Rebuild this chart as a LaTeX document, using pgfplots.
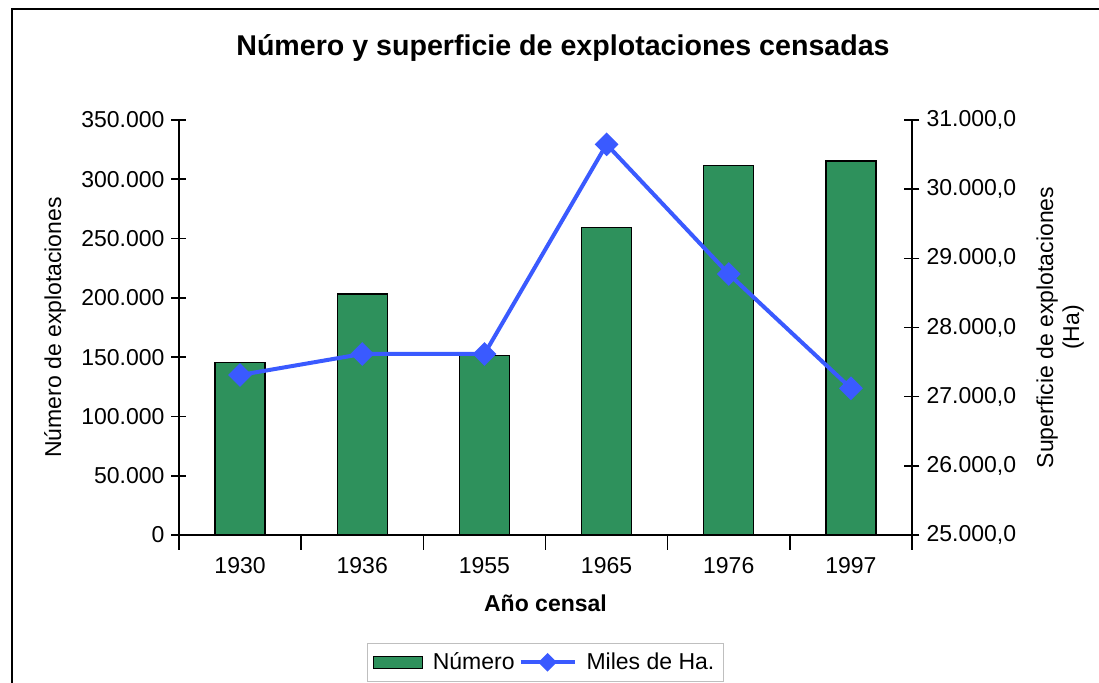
\documentclass[border=0pt]{standalone}
\usepackage{fontspec}
\setmainfont{Liberation Sans}
\usepackage{pgfplots}
\pgfplotsset{compat=1.18}
\definecolor{barc}{RGB}{46,145,92}
\definecolor{linec}{RGB}{58,90,255}
\pgfplotsset{
  barlegend/.style={legend image code/.code={\draw[fill=barc,draw=black,line width=0.6pt] (0pt,-3pt) rectangle (24.5pt,3pt);}},
  linelegend/.style={legend image code/.code={\draw[##1,mark size=2.3pt,mark repeat=2,mark phase=2] plot coordinates {(0pt,0pt) (13.5pt,0pt) (27pt,0pt)};}},
  common/.style={
    scale only axis, width=366.5pt, height=207.5pt,
    at={(0pt,0pt)}, anchor=south west,
    xmin=-0.5, xmax=5.5,
    scaled y ticks=false,
    tick align=center, major tick length=7.5pt,
    every tick/.style={black, line width=0.8pt},
    axis line style={line width=0.9pt},
    tick label style={font=\fontsize{11.5}{13}\selectfont},
    label style={font=\fontsize{11.5}{13}\selectfont},
  }
}
\begin{document}
\begin{tikzpicture}
\useasboundingbox (-89.5pt,-74pt) rectangle (460pt,267.5pt);
\draw[line width=0.8pt] (-83.5pt,-80pt) -- (-83.5pt,263pt) -- (470pt,263pt);
\begin{axis}[common,
  axis y line*=left, axis x line*=bottom,
  ymin=0, ymax=350000, ytick={0,50000,100000,150000,200000,250000,300000,350000},
  yticklabels={0,50.000,100.000,150.000,200.000,250.000,300.000,350.000},
  xtick={-0.5,0.5,1.5,2.5,3.5,4.5,5.5},
  x tick label as interval,
  xticklabels={1930,1936,1955,1965,1976,1997},
  xlabel={\bfseries Año censal},
  xlabel style={at={(axis description cs:0.5,-0.164)}, anchor=center},
  ylabel={Número de explotaciones},
  ylabel style={at={(axis description cs:-0.169,0.5)}, anchor=center},
  ybar, bar width=25pt,
]
\addplot[fill=barc, draw=black, line width=0.7pt] coordinates {(0,145650) (1,203250) (2,151230) (3,259500) (4,311470) (5,315420)};
\end{axis}
\begin{axis}[common,
  axis y line*=right, axis x line=none,
  ymin=25000, ymax=31000, ytick={25000,26000,27000,28000,29000,30000,31000},
  yticklabels={{25.000,0},{26.000,0},{27.000,0},{28.000,0},{29.000,0},{30.000,0},{31.000,0}},
  ylabel={Superficie de explotaciones\\(Ha)},
  ylabel style={at={(axis description cs:1.202,0.5)}, anchor=center, align=center},
  legend style={at={(axis description cs:0.5,-0.26)}, anchor=north, draw=gray!50, legend columns=2, font=\fontsize{11.5}{13}\selectfont, inner sep=2.5pt,
    /tikz/every odd column/.append style={column sep=3pt}},
]
\addlegendimage{barlegend}
\addlegendentry{Número}
\addplot[linec, line width=2pt, mark=square*, mark size=3.2pt, mark options={rotate=45}, linelegend]
  coordinates {(0,27313) (1,27617) (2,27617) (3,30648) (4,28773) (5,27121)};
\addlegendentry{Miles de Ha.}
\end{axis}
\node[font=\bfseries\fontsize{14.3}{16}\selectfont] at (192pt,243.5pt) {Número y superficie de explotaciones censadas};
\end{tikzpicture}
\end{document}
